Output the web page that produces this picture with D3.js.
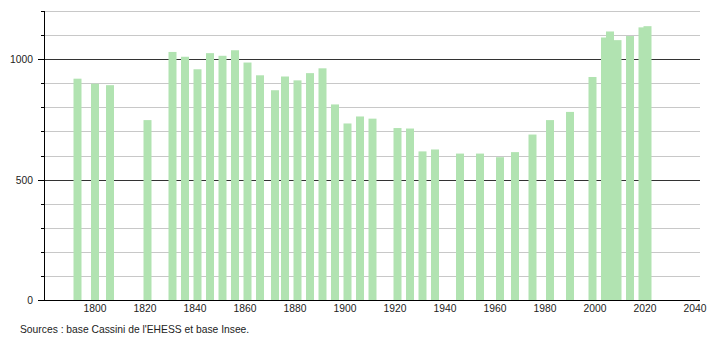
<!DOCTYPE html>
<html>
<head>
<meta charset="utf-8">
<script src="https://cdn.jsdelivr.net/npm/d3@7"></script>
<style>
  body { margin: 0; background: #fff; }
  text { font-family: "Liberation Sans", Arial, sans-serif; }
</style>
</head>
<body>
<div id="chart"></div>
<script>
// census years and population
var years = [1793, 1800, 1806, 1821, 1831, 1836, 1841, 1846, 1851, 1856,
             1861, 1866, 1872, 1876, 1881, 1886, 1891, 1896, 1901, 1906,
             1911, 1921, 1926, 1931, 1936, 1946, 1954, 1962, 1968, 1975,
             1982, 1990, 1999, 2004, 2006, 2009, 2014, 2019, 2021];
var population = [919, 898, 892, 747, 1030, 1010, 958, 1025, 1014, 1037,
                  986, 933, 871, 928, 912, 942, 962, 812, 733, 762,
                  753, 714, 712, 617, 625, 608, 608, 593, 614, 687,
                  747, 781, 926, 1090, 1115, 1079, 1096, 1132, 1137];
var xTicks = [1800, 1820, 1840, 1860, 1880, 1900, 1920, 1940, 1960, 1980, 2000, 2020, 2040];
var yLabels = [0, 500, 1000];
var yGrid = [100, 200, 300, 400, 500, 600, 700, 800, 900, 1000, 1100, 1200];

var width = 710, height = 340;
var svg = d3.select("#chart").append("svg")
    .attr("width", width)
    .attr("height", height);

var x = d3.scaleLinear().domain([1780, 2042]).range([45, 700]);
var y = d3.scaleLinear().domain([0, 1200]).range([300, 11]);
var left = 44, right = 700;

// grid lines, darker at 500 and 1000
svg.selectAll("line.grid")
    .data(yGrid)
    .enter()
    .append("line")
    .attr("class", "grid")
    .attr("x1", left)
    .attr("x2", right)
    .attr("y1", function (d) { return Math.round(y(d)) + 0.5; })
    .attr("y2", function (d) { return Math.round(y(d)) + 0.5; })
    .style("stroke", function (d) { return d % 500 === 0 ? "#333" : "#c8c8c8"; })
    .style("stroke-width", 1);

// bars
var barW = 8;
svg.selectAll("rect.bar")
    .data(years)
    .enter()
    .append("rect")
    .attr("class", "bar")
    .attr("x", function (d) { return x(d) - barW / 2; })
    .attr("y", function (d, i) { return y(population[i]); })
    .attr("width", barW)
    .attr("height", function (d, i) { return y(0) - y(population[i]); })
    .style("fill", "#b1e3b1");

// small ticks left of the y axis
svg.selectAll("line.ytick")
    .data(yGrid)
    .enter()
    .append("line")
    .attr("class", "ytick")
    .attr("x1", function (d) { return d % 500 === 0 ? left - 6 : left - 3; })
    .attr("x2", left)
    .attr("y1", function (d) { return Math.round(y(d)) + 0.5; })
    .attr("y2", function (d) { return Math.round(y(d)) + 0.5; })
    .style("stroke", "#000");

// y axis line
svg.append("line")
    .attr("x1", left + 0.5).attr("x2", left + 0.5)
    .attr("y1", y(1200)).attr("y2", y(0))
    .style("stroke", "#000");

// x axis line
svg.append("line")
    .attr("x1", left - 6).attr("x2", right)
    .attr("y1", Math.round(y(0)) + 0.5).attr("y2", Math.round(y(0)) + 0.5)
    .style("stroke", "#000");

// y labels
svg.selectAll("text.ylab")
    .data(yLabels)
    .enter()
    .append("text")
    .attr("class", "ylab")
    .attr("x", 33)
    .attr("y", function (d) { return y(d) + 4; })
    .attr("text-anchor", "end")
    .style("font-size", "10.3px")
    .style("fill", "#222")
    .text(function (d) { return d; });

// x labels
svg.selectAll("text.xlab")
    .data(xTicks)
    .enter()
    .append("text")
    .attr("class", "xlab")
    .attr("x", function (d) { return x(d); })
    .attr("y", 312)
    .attr("text-anchor", "middle")
    .style("font-size", "10.3px")
    .style("fill", "#222")
    .text(function (d) { return d; });

// source line
svg.append("text")
    .attr("x", 20)
    .attr("y", 333)
    .style("font-size", "10.3px")
    .style("fill", "#222")
    .text("Sources : base Cassini de l'EHESS et base Insee.");
</script>
</body>
</html>
